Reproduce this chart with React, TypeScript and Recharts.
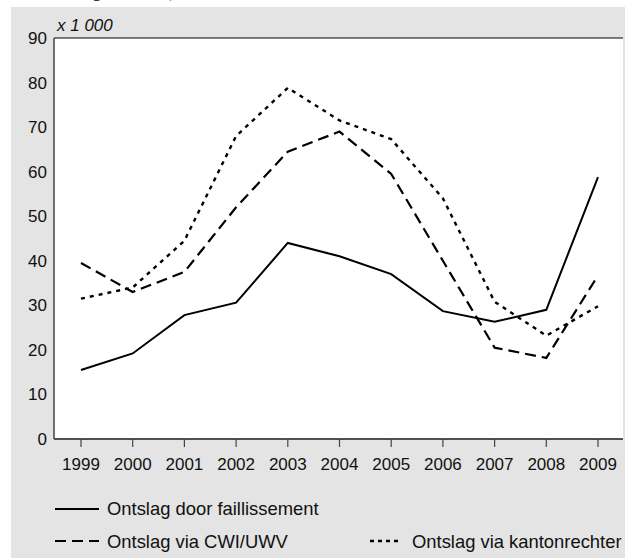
import React from "react";
import { LineChart, Line, XAxis, YAxis, CartesianGrid } from "recharts";

const years = ["1999", "2000", "2001", "2002", "2003", "2004", "2005", "2006", "2007", "2008", "2009"];
const faillissement = [15.5, 19.2, 27.8, 30.6, 44, 41, 37, 28.7, 26.3, 29, 58.8];
const cwiUwv = [39.5, 33, 37.5, 52, 64.5, 69, 59.5, 40, 20.5, 18.2, 36.7];
const kantonrechter = [31.5, 34, 44.5, 68, 78.8, 71.5, 67.3, 54, 30.8, 23.2, 29.8];
const yTicks = [0, 10, 20, 30, 40, 50, 60, 70, 80, 90];

const labels = {
  f: "Ontslag door faillissement",
  c: "Ontslag via CWI/UWV",
  k: "Ontslag via kantonrechter",
};

const data = years.map((y, i) => ({
  year: y,
  f: faillissement[i],
  c: cwiUwv[i],
  k: kantonrechter[i],
}));

const FONT = "'Liberation Sans', Arial, Helvetica, sans-serif";

export default function App() {
  return (
    <div style={{ position: "absolute", left: 0, top: 0, width: 625, height: 558, overflow: "hidden", background: "#fff", fontFamily: FONT }}>
      <div style={{ position: "absolute", left: 11, top: 7, width: 614, height: 551, background: "#e3e4e3" }} />
      <div style={{ position: "absolute", left: 0, top: 0, width: 625, height: 7, overflow: "hidden" }}>
        <div style={{ position: "absolute", left: 40, top: -17, whiteSpace: "nowrap", fontSize: 17, fontWeight: "bold", fontStyle: "italic", color: "#333", lineHeight: "19px" }}>
          Ontslag via CWI, kantonrechter en door faillissement
        </div>
      </div>
      <div style={{ position: "absolute", left: 57, top: 16, fontSize: 17, fontStyle: "italic", color: "#111", lineHeight: "20px", whiteSpace: "nowrap" }}>
        x 1 000
      </div>
      <div style={{ position: "absolute", left: 0, top: 0 }}>
        <LineChart width={625} height={558} data={data} margin={{ top: 38, right: 2, bottom: 79, left: 10 }}>
          <CartesianGrid vertical={false} stroke="#000" strokeWidth={1} fill="#fff" fillOpacity={1} />
          <XAxis
            dataKey="year"
            xAxisId="b"
            height={40}
            padding={{ left: 27, right: 25 }}
            axisLine={{ stroke: "#444", strokeWidth: 1.5 }}
            tickLine={{ stroke: "#444", strokeWidth: 1.2 }}
            tickSize={8}
            tickMargin={11}
            interval={0}
            tick={{ fontSize: 17, fill: "#111", fontFamily: FONT }}
          />
          <XAxis
            dataKey="year"
            xAxisId="t"
            orientation="top"
            height={0}
            padding={{ left: 27, right: 25 }}
            axisLine={{ stroke: "#444", strokeWidth: 1.5 }}
            tick={false}
            tickLine={false}
          />
          <YAxis
            yAxisId="l"
            domain={[0, 90]}
            ticks={yTicks}
            width={44}
            axisLine={{ stroke: "#444", strokeWidth: 1.5 }}
            tickLine={false}
            tickSize={0}
            tickMargin={7}
            interval={0}
            tick={{ fontSize: 17, fill: "#111", fontFamily: FONT }}
          />
          <YAxis
            yAxisId="r"
            orientation="right"
            domain={[0, 90]}
            width={0}
            axisLine={{ stroke: "#444", strokeWidth: 1.5 }}
            tick={false}
            tickLine={false}
          />
          <Line xAxisId="b" yAxisId="l" dataKey="f" name={labels.f} stroke="#000" strokeWidth={2} dot={false} isAnimationActive={false} />
          <Line xAxisId="b" yAxisId="l" dataKey="c" name={labels.c} stroke="#000" strokeWidth={2.2} strokeDasharray="11 6" dot={false} isAnimationActive={false} />
          <Line xAxisId="b" yAxisId="l" dataKey="k" name={labels.k} stroke="#000" strokeWidth={2.4} strokeDasharray="4 5" dot={false} isAnimationActive={false} />
        </LineChart>
      </div>
      <div style={{ position: "absolute", left: 0, top: 0, width: 625, height: 558, pointerEvents: "none" }}>
        <svg width={625} height={558} style={{ position: "absolute", left: 0, top: 0 }}>
          <line x1={55} x2={99} y1={509} y2={509} stroke="#000" strokeWidth={2} />
          <line x1={55} x2={99} y1={541} y2={541} stroke="#000" strokeWidth={2.2} strokeDasharray="11 6" />
          <line x1={370} x2={398} y1={541} y2={541} stroke="#000" strokeWidth={2.4} strokeDasharray="4 4" />
        </svg>
        <div style={{ position: "absolute", left: 107, top: 498, fontSize: 18.4, color: "#111", lineHeight: "22px", whiteSpace: "nowrap" }}>{labels.f}</div>
        <div style={{ position: "absolute", left: 107, top: 531, fontSize: 18.4, color: "#111", lineHeight: "22px", whiteSpace: "nowrap" }}>{labels.c}</div>
        <div style={{ position: "absolute", left: 412, top: 531, fontSize: 18.4, color: "#111", lineHeight: "22px", whiteSpace: "nowrap" }}>{labels.k}</div>
      </div>
    </div>
  );
}
